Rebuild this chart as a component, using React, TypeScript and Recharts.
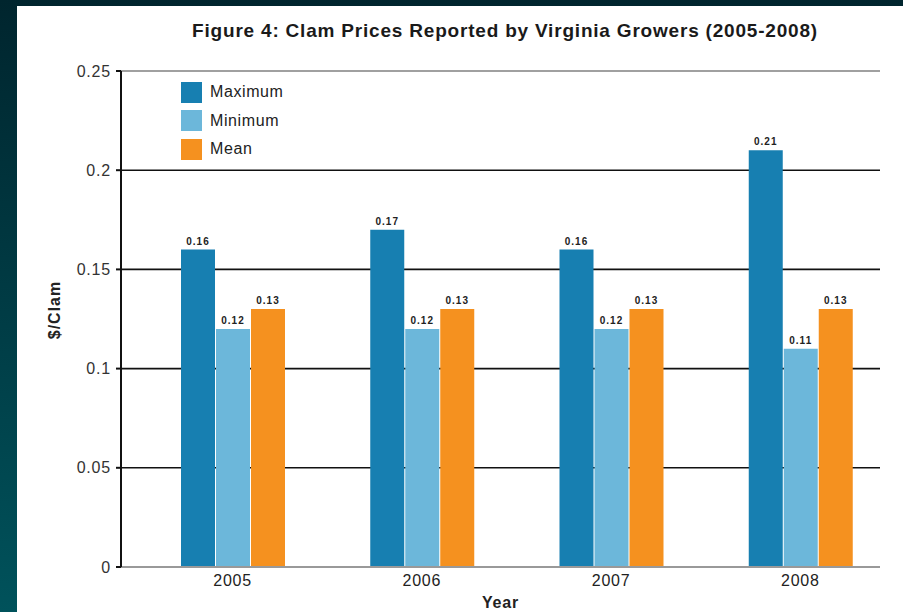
import React from 'react';
import { BarChart, Bar, XAxis, YAxis, CartesianGrid, Legend, LabelList, Label, ReferenceLine } from 'recharts';

const years = ['2005', '2006', '2007', '2008'];
const maximum = [0.16, 0.17, 0.16, 0.21];
const minimum = [0.12, 0.12, 0.12, 0.11];
const mean = [0.13, 0.13, 0.13, 0.13];
const yTicks = [0, 0.05, 0.1, 0.15, 0.2, 0.25];

const series = [
  { key: 'max', name: 'Maximum', color: '#177fb1' },
  { key: 'min', name: 'Minimum', color: '#6cb7da' },
  { key: 'mean', name: 'Mean', color: '#f5911f' },
];

const data = years.map((year, i) => ({
  year,
  max: maximum[i],
  min: minimum[i],
  mean: mean[i],
}));

const FONT = '"Liberation Sans", Arial, Helvetica, sans-serif';

const LegendBox = () => (
  <div style={{ fontFamily: FONT, fontSize: 16, color: '#222' }}>
    {series.map((s) => (
      <div key={s.key} style={{ display: 'flex', alignItems: 'center', height: 28.5 }}>
        <div style={{ width: 21, height: 21, background: s.color, marginRight: 8 }} />
        <span style={{ letterSpacing: 0.6 }}>{s.name}</span>
      </div>
    ))}
  </div>
);

const YTitle = ({ viewBox }: any) => {
  const cx = viewBox.x + 13;
  const cy = viewBox.y + viewBox.height / 2 - 9;
  return (
    <text
      x={cx}
      y={cy}
      transform={`rotate(-90, ${cx}, ${cy})`}
      textAnchor="middle"
      dominantBaseline="central"
      fontFamily={FONT}
      fontWeight="bold"
      fontSize={16}
      fill="#222"
      letterSpacing={1}
    >
      $/Clam
    </text>
  );
};

const App = () => {
  return (
    <div
      style={{
        position: 'fixed',
        left: 0,
        top: 0,
        width: 903,
        height: 612,
        background: 'linear-gradient(to bottom, #00252e, #00525b)',
        overflow: 'hidden',
      }}
    >
      <div
        style={{
          position: 'absolute',
          left: 17,
          top: 6,
          width: 886,
          height: 606,
          background: '#fff',
        }}
      >
        <div
          style={{
            position: 'absolute',
            left: 0,
            top: 14,
            width: 886,
            textAlign: 'center',
            paddingLeft: 90,
            boxSizing: 'border-box',
            fontFamily: FONT,
            fontWeight: 'bold',
            fontSize: 19,
            letterSpacing: 0.8,
            color: '#1a1a1a',
            whiteSpace: 'nowrap',
          }}
        >
          Figure 4: Clam Prices Reported by Virginia Growers (2005-2008)
        </div>
        <BarChart
          width={886}
          height={606}
          data={data}
          margin={{ top: 65, right: 23, left: 24, bottom: 0 }}
          barSize={34}
          barGap={1}
          style={{ position: 'absolute', left: 0, top: 0 }}
        >
          <CartesianGrid vertical={false} stroke="#111" strokeWidth={1.6} />
          <XAxis
            dataKey="year"
            height={45}
            padding={{ left: 17, right: -15 }}
            axisLine={{ stroke: '#999', strokeWidth: 2 }}
            tickLine={false}
            tick={{ fill: '#222', fontSize: 16, fontFamily: FONT, letterSpacing: 0.8 }}
          >
            <Label
              value="Year"
              position="insideBottom"
              offset={4}
              style={{ fontFamily: FONT, fontWeight: 'bold', fontSize: 16, fill: '#222', letterSpacing: 0.8 }}
            />
          </XAxis>
          <YAxis
            width={80}
            domain={[0, 0.25]}
            ticks={yTicks}
            interval={0}
            tickSize={5}
            tickMargin={5}
            axisLine={{ stroke: '#111', strokeWidth: 2 }}
            tickLine={{ stroke: '#111', strokeWidth: 2 }}
            tick={{ fill: '#333', fontSize: 16, fontFamily: FONT, letterSpacing: 0.8 }}
          >
            <Label content={<YTitle />} />
          </YAxis>
          <YAxis
            yAxisId="frame"
            orientation="right"
            width={0}
            tick={false}
            tickLine={false}
            axisLine={{ stroke: '#a0a0a0', strokeWidth: 2 }}
          />
          <ReferenceLine y={0.25} stroke="#a0a0a0" strokeWidth={2} />
          <Legend
            layout="vertical"
            verticalAlign="middle"
            align="center"
            content={<LegendBox />}
            wrapperStyle={{ left: 164, top: 72, width: 200 }}
          />
          {series.map((s) => (
            <Bar key={s.key} dataKey={s.key} name={s.name} fill={s.color} isAnimationActive={false}>
              <LabelList
                dataKey={s.key}
                position="top"
                offset={5}
                style={{ fontFamily: FONT, fontSize: 10, fontWeight: 'bold', fill: '#222', letterSpacing: 1 }}
              />
            </Bar>
          ))}
        </BarChart>
      </div>
    </div>
  );
};

export default App;
